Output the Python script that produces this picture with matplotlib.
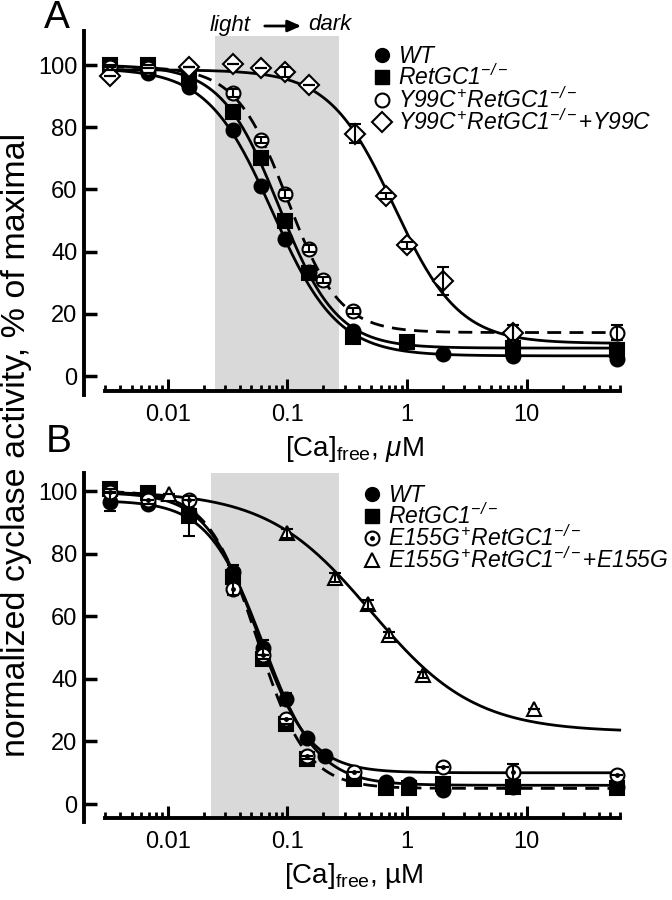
import numpy as np
import matplotlib
matplotlib.use("Agg")
import matplotlib.pyplot as plt
from matplotlib.lines import Line2D

plt.rcParams["font.family"] = ["Liberation Sans", "DejaVu Sans"]
plt.rcParams["mathtext.fontset"] = "custom"
plt.rcParams["mathtext.rm"] = "Liberation Sans:italic"
plt.rcParams["mathtext.it"] = "Liberation Sans:italic"
plt.rcParams["mathtext.sf"] = "Liberation Sans"
plt.rcParams["mathtext.default"] = "it"

# ---- panel A data (Ca free, uM ; % of maximal) ----
x_a_wt = [0.0033, 0.0068, 0.015, 0.035, 0.06, 0.095, 0.15, 0.35, 2.0, 7.7, 57]
y_a_wt = [98.5, 97.5, 93, 79, 61, 44, 33.5, 14.5, 7, 6.5, 5.5]
e_a_wt = [0, 0, 0, 1, 1, 1, 0, 0, 0, 0, 0]

x_a_ko = [0.0033, 0.0068, 0.015, 0.035, 0.06, 0.095, 0.15, 0.35, 1.0, 7.7, 57]
y_a_ko = [100, 100, 95.5, 85, 70, 50, 33, 12.5, 11, 9, 8.5]
e_a_ko = [0, 0, 0, 1, 1.5, 1.5, 0, 0, 0, 0, 0]

x_a_y99 = [0.0033, 0.0068, 0.015, 0.035, 0.06, 0.095, 0.15, 0.2, 0.35, 7.7, 57]
y_a_y99 = [99.5, 99, 99.5, 91, 76, 58.5, 41, 31, 21, 14, 14]
e_a_y99 = [0, 0, 0, 1.2, 1, 1.2, 1.2, 1, 1, 2.5, 2.5]

x_a_y99c = [0.0033, 0.015, 0.035, 0.06, 0.095, 0.15, 0.37, 0.67, 1.0, 2.0, 7.7]
y_a_y99c = [96.5, 99.5, 100.3, 99.2, 97.8, 93.5, 78, 58, 42, 30.5, 14]
e_a_y99c = [0, 0, 0, 0, 1.5, 0, 3, 1, 1, 4.5, 2.5]

# Hill fits: top, bottom, IC50 (uM), Hill coefficient
fit_a_wt = [99, 6.5, 0.075, 1.6]
fit_a_ko = [100, 9, 0.085, 1.8]
fit_a_y99 = [99.5, 14, 0.1, 2.0]
fit_a_y99c = [98.5, 10.5, 0.78, 1.6]

# ---- panel B data ----
x_b_wt = [0.0033, 0.0068, 0.015, 0.035, 0.062, 0.098, 0.147, 0.205, 0.67, 1.04, 2.0, 7.7, 57]
y_b_wt = [96.5, 96, 93, 74, 50, 33.5, 21, 15.5, 7, 6.5, 4.5, 5.5, 5.5]
e_b_wt = [3, 0, 0, 2.5, 2.5, 2, 0, 0, 0, 0, 0, 0, 0]

x_b_ko = [0.0033, 0.0068, 0.015, 0.035, 0.062, 0.098, 0.147, 0.36, 0.67, 1.04, 2.0, 7.7, 57]
y_b_ko = [100.5, 99.5, 92, 72.5, 46.5, 25.5, 14.5, 8, 5, 5, 6.5, 5.5, 5]
e_b_ko = [0, 0, 6.5, 0, 0, 0, 0, 0, 0, 0, 0, 0, 0]

x_b_e155 = [0.0033, 0.0068, 0.015, 0.035, 0.062, 0.098, 0.147, 0.36, 2.0, 7.7, 57]
y_b_e155 = [99.8, 97, 97, 68.8, 47.6, 27.1, 15.5, 10.4, 11.7, 10.3, 9.2]
e_b_e155 = [0, 0, 0, 2, 0, 0, 0, 0, 0, 2.5, 0]

x_b_e155g = [0.0103, 0.1, 0.25, 0.47, 0.7, 1.36, 11.6]
y_b_e155g = [99, 86.5, 72.3, 63.8, 54, 41.2, 30.3]
e_b_e155g = [0, 1.5, 1.5, 1.5, 1, 1, 0]

fit_b_wt = [97, 6, 0.062, 1.9]
fit_b_ko = [100, 5, 0.056, 2.1]
fit_b_e155 = [99.5, 10, 0.056, 2.0]
fit_b_e155g = [100, 23, 0.5, 1.0]

shade_a = [0.025, 0.27]
shade_b = [0.023, 0.27]

labels_a = [r"$WT$", r"$RetGC1^{-/-}$", r"$Y99C^{+}RetGC1^{-/-}$",
            r"$Y99C^{+}RetGC1^{-/-}$+$Y99C$"]
labels_b = [r"$WT$", r"$RetGC1^{-/-}$", r"$E155G^{+}RetGC1^{-/-}$",
            r"$E155G^{+}RetGC1^{-/-}$+$E155G$"]


def hill(x, p):
    top, bottom, ic50, h = p
    return bottom + (top - bottom) / (1 + (x / ic50) ** h)


xfit = np.logspace(np.log10(0.0033), np.log10(60), 300)

fig = plt.figure(figsize=(6.72, 9), dpi=100)
ax_a = fig.add_axes([0.1254, 0.5614, 0.803, 0.4043])
ax_b = fig.add_axes([0.1254, 0.0864, 0.803, 0.3882])

LW = 2.0
MS = 10
LEG_FS = 16.5


def style_axes(ax, ylim, xspine_y):
    ax.set_xscale("log")
    ax.set_xlim(0.002, 65)
    ax.set_ylim(*ylim)
    for s in ["top", "right"]:
        ax.spines[s].set_visible(False)
    ax.spines["left"].set_linewidth(2.8)
    ax.spines["bottom"].set_linewidth(2.8)
    ax.spines["bottom"].set_position(("data", xspine_y))
    ax.spines["bottom"].set_bounds(0.003, 60)
    ax.set_yticks([0, 20, 40, 60, 80, 100])
    ax.set_xticks([0.01, 0.1, 1, 10])
    ax.set_xticklabels(["0.01", "0.1", "1", "10"])
    minors = [m * d for d in [0.001, 0.01, 0.1, 1, 10] for m in range(2, 10)]
    minors = [v for v in minors if 0.0029 < v < 61]
    ax.set_xticks(minors, minor=True)
    ax.tick_params(axis="y", direction="in", length=9, width=2.5,
                   labelsize=17, pad=5)
    ax.tick_params(axis="x", which="major", direction="in", length=9,
                   width=2.2, labelsize=17, pad=9)
    ax.tick_params(axis="x", which="minor", direction="in", length=4.5,
                   width=2.0, labelbottom=False)


def series(ax, x, y, e, marker, face, fit, dashed=False, dot=False):
    ax.plot(xfit, hill(xfit, fit), color="black", lw=LW,
            ls=(0, (5, 3)) if dashed else "-", zorder=3)
    ax.errorbar(x, y, yerr=e, fmt="none", ecolor="black", elinewidth=1.5,
                capsize=4.5, capthick=1.5, zorder=5, clip_on=False)
    ax.plot(x, y, ls="none", marker=marker, ms=MS, mfc=face, mec="black",
            mew=1.5, zorder=4, clip_on=False)
    if dot:
        ax.plot(x, y, ls="none", marker="o", ms=2.5, color="black",
                zorder=6, clip_on=False)


def add_legend(ax, handles, labels, anchor):
    ax.legend(handles, labels, loc="upper left", bbox_to_anchor=anchor,
              bbox_transform=fig.transFigure, frameon=False, fontsize=LEG_FS,
              handlelength=0.8, handletextpad=0.3, labelspacing=-0.15,
              borderpad=0, borderaxespad=0)


# ---- Panel A ----
style_axes(ax_a, (-6, 111), -4.8)
ax_a.fill_betweenx([-4.8, 109.3], shade_a[0], shade_a[1], color="#d9d9d9",
                   lw=0, zorder=0)
series(ax_a, x_a_wt, y_a_wt, e_a_wt, "o", "black", fit_a_wt)
series(ax_a, x_a_ko, y_a_ko, e_a_ko, "s", "black", fit_a_ko)
series(ax_a, x_a_y99, y_a_y99, e_a_y99, "o", "white", fit_a_y99, dashed=True)
series(ax_a, x_a_y99c, y_a_y99c, e_a_y99c, "D", "white", fit_a_y99c)
ax_a.set_xlabel(r"[Ca]$_{\mathsf{free}}$, $\mu$M", fontsize=20, labelpad=6)

h_a = [Line2D([], [], ls="none", marker="o", ms=MS, mfc="black", mec="black"),
       Line2D([], [], ls="none", marker="s", ms=MS, mfc="black", mec="black"),
       Line2D([], [], ls="none", marker="o", ms=MS, mfc="white", mec="black", mew=1.5),
       Line2D([], [], ls="none", marker="D", ms=MS, mfc="white", mec="black", mew=1.5)]
add_legend(ax_a, h_a, labels_a, (0.5545, 0.950))

# ---- Panel B ----
style_axes(ax_b, (-5.8, 105.8), -4.5)
ax_b.fill_betweenx([-4.5, 105.8], shade_b[0], shade_b[1], color="#d9d9d9",
                   lw=0, zorder=0)
series(ax_b, x_b_wt, y_b_wt, e_b_wt, "o", "black", fit_b_wt)
series(ax_b, x_b_ko, y_b_ko, e_b_ko, "s", "black", fit_b_ko, dashed=True)
series(ax_b, x_b_e155, y_b_e155, e_b_e155, "o", "white", fit_b_e155, dot=True)
series(ax_b, x_b_e155g, y_b_e155g, e_b_e155g, "^", "white", fit_b_e155g)
ax_b.set_xlabel("[Ca]$_{\\mathsf{free}}$, \u00b5M", fontsize=20, labelpad=6)

h_b = [Line2D([], [], ls="none", marker="o", ms=MS, mfc="black", mec="black"),
       Line2D([], [], ls="none", marker="s", ms=MS, mfc="black", mec="black"),
       (Line2D([], [], ls="none", marker="o", ms=MS, mfc="white", mec="black", mew=1.5),
        Line2D([], [], ls="none", marker="o", ms=2.5, color="black")),
       Line2D([], [], ls="none", marker="^", ms=MS, mfc="white", mec="black", mew=1.5)]
add_legend(ax_b, h_b, labels_b, (0.5396, 0.4627))

# ---- annotations ----
fig.text(57 / 672, 1 - 18 / 900, "A", fontsize=28, ha="center", va="center")
fig.text(59 / 672, 1 - 442 / 900, "B", fontsize=28, ha="center", va="center")
fig.text(17 / 672, 1 - 445 / 900, "normalized cyclase activity, % of maximal",
         rotation=90, fontsize=24.5, ha="center", va="center")
fig.text(230 / 672, 1 - 25 / 900, "light", fontsize=16, style="italic",
         ha="center", va="center")
fig.text(330 / 672, 1 - 25 / 900, "dark", fontsize=16, style="italic",
         ha="center", va="center")
fig.add_artist(matplotlib.patches.FancyArrowPatch(
    (262 / 672, 1 - 26 / 900), (304 / 672, 1 - 26 / 900),
    transform=fig.transFigure, arrowstyle="-|>,head_length=8,head_width=3.5",
    mutation_scale=1, lw=2, color="black"))

fig.savefig("out.png", dpi=100)
